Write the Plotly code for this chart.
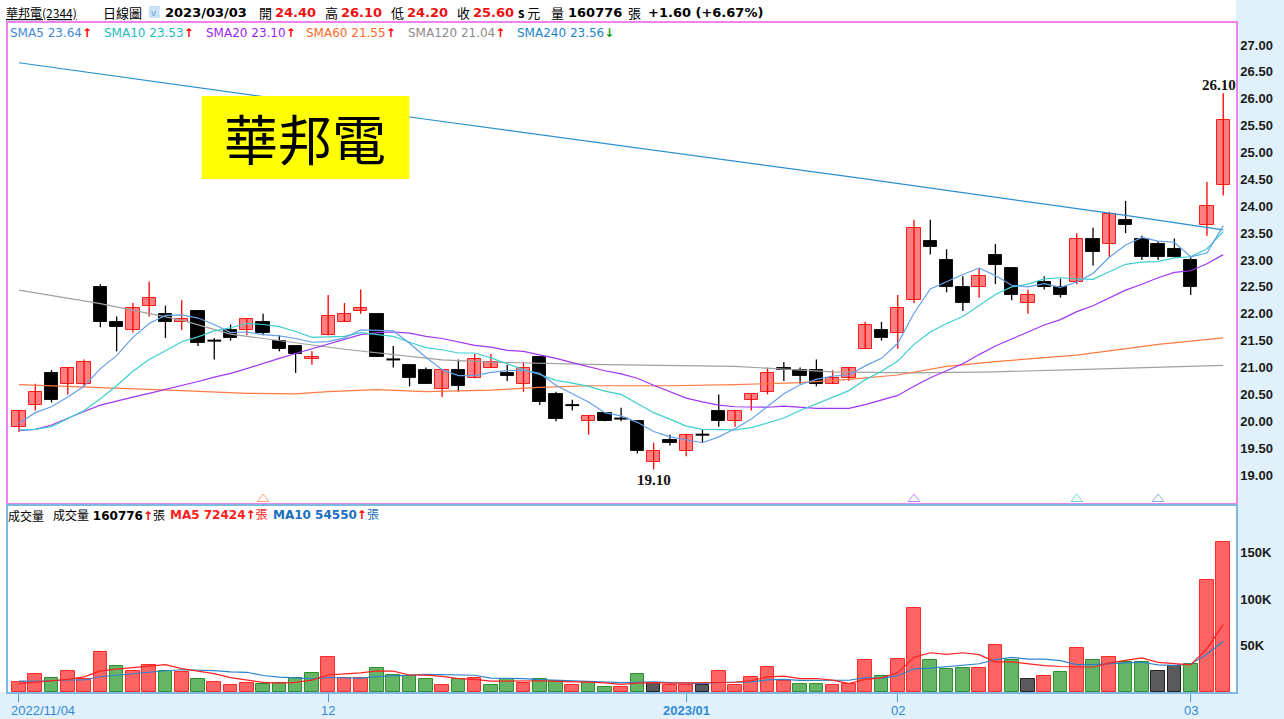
import plotly.graph_objects as go

# ---------------- data ----------------
opens = [19.90, 20.30, 20.90, 20.70, 20.70, 22.50, 21.85, 21.70, 22.15, 22.00,
         21.85, 22.05, 21.50, 21.70, 21.70, 21.85, 21.50, 21.40, 21.15, 21.60,
         21.85, 22.05, 22.00, 21.15, 21.05, 20.95, 20.60, 20.95, 20.80, 21.00,
         20.90, 20.70, 21.20, 20.50, 20.30, 20.00, 20.15, 20.05, 20.00, 19.25,
         19.65, 19.45, 19.75, 20.20, 20.00, 20.40, 20.55, 21.00, 20.95, 20.95,
         20.70, 20.80, 21.35, 21.70, 21.65, 22.25, 23.35, 23.00, 22.50, 22.50,
         23.10, 22.85, 22.20, 22.60, 22.50, 22.60, 23.40, 23.30, 23.75, 23.40,
         23.30, 23.20, 23.00, 23.65, 24.40]
highs = [20.20, 20.70, 20.95, 21.00, 21.15, 22.55, 21.95, 22.20, 22.60, 22.15,
         22.25, 22.05, 21.55, 21.80, 21.90, 22.00, 21.60, 21.40, 21.30, 22.35,
         22.20, 22.45, 22.00, 21.40, 21.05, 21.00, 20.95, 21.15, 21.25, 21.25,
         21.05, 21.10, 21.20, 20.55, 20.40, 20.10, 20.15, 20.25, 20.00, 19.60,
         19.75, 19.75, 19.85, 20.50, 20.20, 20.50, 21.00, 21.10, 21.00, 21.15,
         20.95, 21.00, 21.85, 21.85, 22.35, 23.75, 23.75, 23.20, 22.70, 22.85,
         23.30, 22.85, 22.45, 22.70, 22.65, 23.50, 23.60, 23.90, 24.10, 23.45,
         23.35, 23.40, 23.05, 24.45, 26.10]
lows = [19.80, 20.20, 20.35, 20.50, 20.65, 21.75, 21.30, 21.65, 21.95, 21.55,
        21.70, 21.40, 21.15, 21.50, 21.60, 21.60, 21.30, 20.90, 21.05, 21.60,
        21.85, 22.00, 21.20, 21.00, 20.65, 20.70, 20.45, 20.55, 20.80, 21.00,
        20.75, 20.55, 20.30, 20.00, 20.20, 19.75, 20.00, 20.00, 19.40, 19.10,
        19.55, 19.35, 19.60, 19.90, 19.90, 20.20, 20.50, 20.75, 20.70, 20.65,
        20.70, 20.75, 21.35, 21.50, 21.35, 22.20, 23.10, 22.40, 22.05, 22.30,
        22.55, 22.25, 22.00, 22.45, 22.30, 22.55, 22.90, 23.05, 23.50, 23.00,
        23.00, 23.05, 22.35, 23.45, 24.20]
closes = [20.20, 20.55, 20.40, 21.00, 21.10, 21.85, 21.75, 22.10, 22.30, 21.85,
          21.90, 21.45, 21.50, 21.55, 21.90, 21.65, 21.35, 21.25, 21.20, 21.95,
          22.00, 22.10, 21.20, 21.15, 20.80, 20.70, 20.95, 20.65, 21.15, 21.10,
          20.85, 21.00, 20.35, 20.05, 20.30, 20.10, 20.00, 20.05, 19.45, 19.45,
          19.60, 19.75, 19.75, 20.00, 20.20, 20.50, 20.90, 20.95, 20.85, 20.70,
          20.80, 21.00, 21.80, 21.55, 22.10, 23.60, 23.25, 22.50, 22.20, 22.70,
          22.90, 22.35, 22.35, 22.50, 22.35, 23.40, 23.15, 23.85, 23.65, 23.05,
          23.05, 23.05, 22.50, 24.00, 25.60]
volumes = [11000, 19000, 15000, 22500, 13500, 43500, 28500, 23000, 29500, 23000,
           22000, 14000, 10500, 8000, 10000, 9000, 10000, 15000, 20000, 37500,
           15000, 15000, 26000, 18500, 17000, 14500, 8000, 13500, 15000, 7000,
           14500, 10000, 14000, 12000, 7000, 10500, 5500, 5500, 19000, 10000,
           7500, 7000, 7000, 23000, 8000, 16000, 27000, 11500, 9000, 9000,
           7000, 9000, 34000, 17000, 36000, 90000, 34000, 25000, 26000, 26000,
           51000, 34000, 14000, 17000, 21000, 47000, 34000, 38000, 32000, 32400,
           22500, 28500, 30000, 120300, 160776]

sma5 = [19.96, 20.16, 20.27, 20.45, 20.65, 20.98, 21.22, 21.56, 21.82, 21.97,
        21.98, 21.92, 21.80, 21.65, 21.66, 21.61, 21.59, 21.54, 21.47, 21.48,
        21.55, 21.70, 21.69, 21.68, 21.45, 21.19, 20.96, 20.85, 20.85, 20.91,
        20.94, 20.95, 20.89, 20.67, 20.51, 20.36, 20.16, 20.10, 19.98, 19.81,
        19.71, 19.66, 19.60, 19.71, 19.86, 20.04, 20.27, 20.51, 20.68, 20.78,
        20.84, 20.86, 21.03, 21.17, 21.45, 22.01, 22.46, 22.60, 22.73, 22.85,
        22.71, 22.53, 22.50, 22.56, 22.49, 22.59, 22.75, 23.05, 23.28, 23.42,
        23.35, 23.33, 23.06, 23.13, 23.64]
sma10 = [19.84, 19.85, 19.90, 20.05, 20.20, 20.42, 20.66, 20.93, 21.15, 21.31,
         21.48, 21.57, 21.68, 21.74, 21.82, 21.80, 21.76, 21.67, 21.56, 21.57,
         21.58, 21.65, 21.62, 21.58, 21.47, 21.37, 21.33, 21.27, 21.27, 21.18,
         21.07, 20.96, 20.87, 20.76, 20.71, 20.65, 20.56, 20.50, 20.33, 20.16,
         20.04, 19.91, 19.85, 19.85, 19.84, 19.88, 19.97, 20.06, 20.20, 20.32,
         20.44, 20.57, 20.77, 20.93, 21.12, 21.43, 21.66, 21.82, 21.95, 22.15,
         22.36, 22.50, 22.55, 22.65, 22.67, 22.65, 22.64, 22.78, 22.92, 22.96,
         22.97, 23.04, 23.06, 23.21, 23.53]
sma20 = [19.83, 19.85, 19.93, 20.06, 20.18, 20.30, 20.38, 20.45, 20.52, 20.59,
         20.67, 20.74, 20.82, 20.89, 20.98, 21.08, 21.17, 21.26, 21.35, 21.44,
         21.53, 21.61, 21.65, 21.66, 21.64, 21.58, 21.54, 21.47, 21.41, 21.38,
         21.32, 21.30, 21.24, 21.17, 21.09, 21.01, 20.94, 20.88, 20.80, 20.67,
         20.55, 20.43, 20.36, 20.30, 20.27, 20.26, 20.26, 20.28, 20.26, 20.24,
         20.24, 20.24, 20.31, 20.39, 20.48, 20.65, 20.81, 20.94, 21.07, 21.24,
         21.40, 21.53, 21.66, 21.79, 21.89, 22.04, 22.15, 22.30, 22.44, 22.55,
         22.67, 22.77, 22.80, 22.93, 23.10]
sma60_idx = [0, 5, 10, 14, 17, 19, 22, 25, 29, 32, 35, 40, 44, 48, 51, 54, 57, 60, 65, 70, 74]
sma60_val = [20.68, 20.63, 20.57, 20.52, 20.51, 20.55, 20.59, 20.55, 20.58, 20.63, 20.66,
             20.66, 20.68, 20.72, 20.78, 20.86, 21.02, 21.11, 21.23, 21.43, 21.55]
sma120_idx = [0, 5, 10, 13, 20, 26, 29, 35, 44, 50, 55, 60, 65, 70, 74]
sma120_val = [22.44, 22.19, 21.88, 21.62, 21.34, 21.14, 21.10, 21.06, 21.02, 20.92,
              20.90, 20.92, 20.96, 21.01, 21.04]
sma240_idx = [0, 24, 51, 68, 74]
sma240_val = [26.67, 25.66, 24.55, 23.83, 23.56]

vol_ma5 = [9.0, 10.7, 11.8, 13.6, 16.2, 22.7, 24.6, 26.2, 27.6, 29.5,
           25.2, 22.3, 19.8, 15.5, 12.9, 10.3, 9.5, 10.4, 12.8, 18.3,
           19.5, 20.5, 22.7, 22.4, 18.3, 18.2, 16.8, 14.3, 13.6, 11.6,
           11.6, 12.0, 12.1, 11.5, 11.5, 10.7, 9.8, 8.1, 9.5, 10.1,
           9.5, 9.8, 10.1, 10.9, 10.5, 12.2, 16.2, 17.1, 14.3, 14.5,
           12.7, 9.1, 13.6, 15.2, 20.6, 37.2, 42.2, 40.4, 42.2, 40.2,
           32.4, 32.4, 30.2, 28.4, 27.4, 26.6, 26.6, 31.4, 34.4, 36.7,
           31.8, 30.7, 29.1, 46.7, 72.424]
vol_ma10 = [11.8, 11.8, 12.1, 12.9, 12.9, 16.4, 18.2, 20.0, 21.4, 22.85,
            23.95, 23.45, 23.0, 21.55, 21.2, 17.75, 15.9, 15.1, 14.15, 15.6,
            14.9, 15.0, 16.55, 17.6, 18.3, 18.85, 18.65, 18.5, 18.0, 14.95,
            14.9, 14.4, 13.2, 12.55, 11.55, 11.15, 10.9, 10.1, 10.5, 10.8,
            10.1, 9.8, 9.1, 10.2, 10.3, 10.85, 13.0, 13.6, 12.6, 12.5,
            12.45, 12.65, 15.35, 14.75, 17.55, 24.95, 25.65, 27.0, 28.7, 30.4,
            34.8, 37.3, 35.3, 35.3, 33.8, 29.5, 29.5, 30.8, 31.4, 32.0,
            29.2, 28.6, 30.2, 40.6, 54.55]

tick_idx = [0, 19, 41, 54, 72]
tick_text = ["2022/11/04", "12", "2023/01", "02", "03"]
price_ticks = [19.0, 19.5, 20.0, 20.5, 21.0, 21.5, 22.0, 22.5, 23.0, 23.5, 24.0, 24.5,
               25.0, 25.5, 26.0, 26.5, 27.0]
vol_ticks = [50000, 100000, 150000]
vol_tick_text = ["50K", "100K", "150K"]
signal_idx = [15, 55, 65, 70]
signal_colors = ["#ffa07a", "#c080ff", "#70d8e0", "#80b0e0"]

# ---------------- geometry ----------------
W, H = 1284, 719
ML, MR, MT, MB = 6, 48, 23, 27
PW, PH = W - ML - MR, H - MT - MB
SLOT, X0 = 16.3, 17.0


def px_x(px):
    return (px - ML) / PW


def px_y(py):
    return (H - MB - py) / PH


x_range = [(ML - X0) / SLOT, (W - MR - X0) / SLOT]
PPU = 53.75  # px per 1.00 price
price_range = [27 - (503 - 45) / PPU, 27 + (45 - MT) / PPU]
vol_range = [0, 200000]

n = len(closes)
idx = list(range(n))
RED, BLACK = "#ff0000", "#000000"
FONT = "DejaVu Sans, Noto Sans CJK TC, sans-serif"
ARIAL = "Liberation Sans, Arial, sans-serif"
CJK = "Noto Sans CJK TC, DejaVu Sans, sans-serif"

fig = go.Figure()

# ---- volume bars ----
vcol, vline = [], []
for i in idx:
    prev = closes[i - 1] if i > 0 else closes[i] - 0.1
    if closes[i] > prev:
        vcol.append("#ff6464"); vline.append("#ff2a2a")
    elif closes[i] < prev:
        vcol.append("#66b466"); vline.append("#2f8f2f")
    else:
        vcol.append("#5a5a5e"); vline.append("#222222")
fig.add_trace(go.Bar(x=idx, y=volumes, width=0.84, marker=dict(color=vcol, line=dict(color=vline, width=1)),
                     xaxis="x2", yaxis="y2"))
fig.add_trace(go.Scatter(x=idx, y=[v * 1000 for v in vol_ma10], mode="lines",
                         line=dict(color="#2a84cc", width=1.2), xaxis="x2", yaxis="y2"))
fig.add_trace(go.Scatter(x=idx, y=[v * 1000 for v in vol_ma5], mode="lines",
                         line=dict(color="#ff2020", width=1.2), xaxis="x2", yaxis="y2"))

# ---- candle wicks ----
wx = {"up": [], "dn": []}
wy = {"up": [], "dn": []}
for i in idx:
    k = "up" if closes[i] > opens[i] else "dn"
    wx[k] += [i, i, None]
    wy[k] += [lows[i], highs[i], None]
fig.add_trace(go.Scatter(x=wx["up"], y=wy["up"], mode="lines", line=dict(color=RED, width=1.3)))
fig.add_trace(go.Scatter(x=wx["dn"], y=wy["dn"], mode="lines", line=dict(color=BLACK, width=1.3)))

# ---- candle bodies ----
bx, bb, bh, bc, bl = [], [], [], [], []
dx, dy = [], []
for i in idx:
    o, c = opens[i], closes[i]
    if o == c:
        dx += [i - 0.42, i + 0.42, None]
        dy += [c, c, None]
        continue
    bx.append(i)
    bb.append(min(o, c))
    bh.append(abs(c - o))
    if c > o:
        bc.append("#ff8080"); bl.append("#ff1a1a")
    else:
        bc.append("#000000"); bl.append("#111111")
fig.add_trace(go.Bar(x=bx, y=bh, base=bb, width=0.82, marker=dict(color=bc, line=dict(color=bl, width=1))))
fig.add_trace(go.Scatter(x=dx, y=dy, mode="lines", line=dict(color=BLACK, width=2)))

# ---- moving averages ----
fig.add_trace(go.Scatter(x=sma120_idx, y=sma120_val, mode="lines", line=dict(color="#a0a0a0", width=1.2)))
fig.add_trace(go.Scatter(x=sma60_idx, y=sma60_val, mode="lines", line=dict(color="#ff7a45", width=1.2)))
fig.add_trace(go.Scatter(x=sma240_idx, y=sma240_val, mode="lines", line=dict(color="#2a90d0", width=1.2)))
fig.add_trace(go.Scatter(x=idx, y=sma20, mode="lines", line=dict(color="#a235f5", width=1.2)))
fig.add_trace(go.Scatter(x=idx, y=sma10, mode="lines", line=dict(color="#3ccfcf", width=1.2)))
fig.add_trace(go.Scatter(x=idx, y=sma5, mode="lines", line=dict(color="#62a0e6", width=1.2)))

# ---- signal triangles at the bottom of the price panel ----
sig_y = 27 - (499 - 45) / PPU
fig.add_trace(go.Scatter(x=signal_idx, y=[sig_y] * len(signal_idx), mode="markers",
                         marker=dict(symbol="triangle-up-open", size=10, color=signal_colors,
                                     line=dict(width=1, color=signal_colors)), cliponaxis=True))

shapes = []
# light-blue strips (right axis area, bottom axis area)
shapes.append(dict(type="rect", xref="paper", yref="paper", x0=1, x1=px_x(W + 2), y0=px_y(H + 2), y1=px_y(-2),
                   fillcolor="#e1f1fb", line=dict(width=0), layer="below"))
shapes.append(dict(type="rect", xref="paper", yref="paper", x0=px_x(-2), x1=px_x(W + 2), y0=px_y(H + 2), y1=0,
                   fillcolor="#e1f1fb", line=dict(width=0), layer="below"))
# yellow title box
shapes.append(dict(type="rect", xref="paper", yref="paper", x0=px_x(200), x1=px_x(408), y0=px_y(179), y1=px_y(96),
                   fillcolor="#ffff00", line=dict(width=0), layer="above"))
# header dropdown
shapes.append(dict(type="rect", xref="paper", yref="paper", x0=px_x(147), x1=px_x(158), y0=px_y(18), y1=px_y(6),
                   fillcolor="#c9e2f5", line=dict(width=0)))

ann = []


def txt(px, py, s, color="#000000", size=12, bold=False, anchor="left", family=FONT):
    ann.append(dict(xref="paper", yref="paper", x=px_x(px), y=px_y(py), text=("<b>%s</b>" % s) if bold else s,
                    showarrow=False, xanchor=anchor, yanchor="middle", borderpad=0,
                    font=dict(color=color, size=size, family=family)))


# header
HY = 12
txt(3, HY, "<u>華邦電(2344)</u>", size=12, family=CJK)
txt(100, HY, "日線圖", size=13, family=CJK)
txt(152.5, HY + 1, "v", color="#6a9cc8", size=9, anchor="center")
txt(162, HY, "2023/03/03", size=13, bold=True)
for px, lab in [(256, "開"), (323, "高"), (389, "低"), (455, "收")]:
    txt(px, HY, lab, size=13, family=CJK)
for px, val in [(272, "24.40"), (339, "26.10"), (405, "24.20"), (471, "25.60")]:
    txt(px, HY, val, color="#ee1111", size=13, bold=True)
txt(516, HY, "<b>s</b> 元", size=13, family=CJK)
txt(549, HY, "量", size=13, family=CJK)
txt(566, HY, "160776", size=13, bold=True)
txt(626, HY, "張", size=13, family=CJK)
txt(646, HY, "+1.60 (+6.67%)", size=13, bold=True)

# price legend
LY = 33
ARU = "<span style='color:#ff0000'><b>↑</b></span>"
ARD = "<span style='color:#1a9a1a'><b>↓</b></span>"
txt(7, LY, "SMA5 23.64" + ARU, color="#3f8ad8", size=12)
txt(101, LY, "SMA10 23.53" + ARU, color="#22bcbc", size=12)
txt(203, LY, "SMA20 23.10" + ARU, color="#9b1ff0", size=12)
txt(303, LY, "SMA60 21.55" + ARU, color="#ff6a2a", size=12)
txt(406, LY, "SMA120 21.04" + ARU, color="#8c8c8c", size=12)
txt(515, LY, "SMA240 23.56" + ARD, color="#1a84cc", size=12)

# title box text
txt(303, 137, "華邦電", size=54, anchor="center", family=CJK)

# volume legend
VY = 515
txt(5, VY, "成交量", size=12, family=CJK)
txt(50, VY, "成交量 <b>160776</b>" + ARU + "張", size=12, family=FONT)
txt(167, VY, "<b>MA5 72424</b>" + ARU + "張", color="#ff2020", size=12)
txt(270, VY, "<b>MA10 54550</b>" + ARU + "張", color="#1a6fc0", size=12)

# high / low labels
imax = max(idx, key=lambda i: highs[i])
imin = min(idx, key=lambda i: lows[i])
ann.append(dict(x=imax, y=highs[imax], xref="x", yref="y", text="<b>%.2f</b>" % highs[imax], showarrow=False,
                xanchor="center", yanchor="bottom", xshift=-4, yshift=-1, borderpad=0,
                font=dict(size=15, color="#111111", family="Liberation Serif, serif")))
ann.append(dict(x=imin, y=lows[imin], xref="x", yref="y", text="<b>%.2f</b>" % lows[imin], showarrow=False,
                xanchor="center", yanchor="top", yshift=-1, borderpad=0,
                font=dict(size=15, color="#111111", family="Liberation Serif, serif")))

# x labels
for t, s in zip(tick_idx, tick_text):
    a = dict(x=t, y=px_y(710), xref="x2", yref="paper", text=("<b>%s</b>" % s) if s == "2023/01" else s,
             showarrow=False, xanchor="center", yanchor="middle", borderpad=0,
             font=dict(size=13, color="#2f8ad6", family=ARIAL))
    if t == 0:
        a["xanchor"] = "left"
        a["xshift"] = -9
    ann.append(a)

PINK = "#ee82ee"
BLUE = "#7cb8e2"
fig.update_layout(
    width=W, height=H, margin=dict(l=ML, r=MR, t=MT, b=MB),
    paper_bgcolor="#ffffff", plot_bgcolor="#ffffff",
    showlegend=False, hovermode=False, barmode="overlay", bargap=0,
    shapes=shapes, annotations=ann,
    xaxis=dict(domain=[0, 1], range=x_range, anchor="y", showticklabels=False, showgrid=False, zeroline=False,
               showline=True, mirror=True, linecolor=PINK, linewidth=1.5, ticks=""),
    yaxis=dict(domain=[px_y(503), 1], range=price_range, anchor="x", side="right", showgrid=False, zeroline=False,
               showline=True, mirror=True, linecolor=PINK, linewidth=1.5, ticks="",
               tickvals=price_ticks, ticktext=["<b>%.2f</b>" % v for v in price_ticks],
               tickfont=dict(size=13, color="#1a1a1a", family=ARIAL)),
    xaxis2=dict(domain=[0, 1], range=x_range, anchor="y2", showticklabels=False, showgrid=False, zeroline=False,
                showline=True, mirror=True, linecolor=BLUE, linewidth=1.5,
                tickvals=tick_idx, ticks="outside", ticklen=8, tickcolor="#4a9ad8", tickwidth=1),
    yaxis2=dict(domain=[0, px_y(506)], range=vol_range, anchor="x2", side="right", showgrid=False, zeroline=False,
                showline=True, mirror=True, linecolor=BLUE, linewidth=1.5, ticks="",
                tickvals=vol_ticks, ticktext=["<b>%s</b>" % s for s in vol_tick_text],
                tickfont=dict(size=13, color="#1a1a1a", family=ARIAL)),
)

fig.write_html("out.html", config={"displayModeBar": False},
               post_script="document.body.style.margin='0';document.body.style.overflow='hidden';")
